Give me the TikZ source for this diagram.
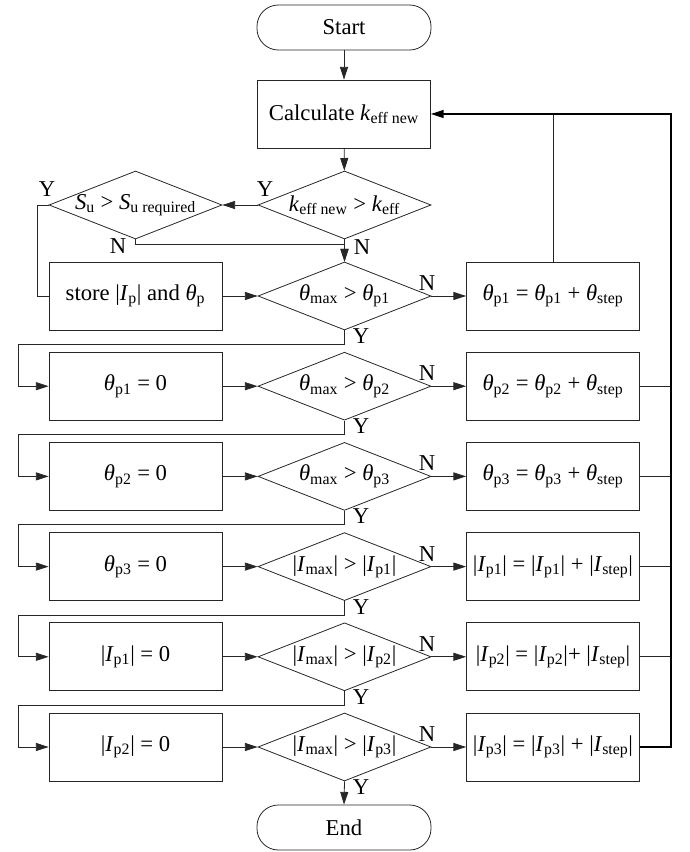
\documentclass[tikz,border=0pt]{standalone}
\usepackage{fontspec}
\setmainfont{Liberation Serif}
\usetikzlibrary{arrows.meta,shapes.geometric}
\newcommand\sbs[1]{\textsubscript{#1}}
\newcommand\vI{\textit{I}}
\newcommand\vth{\textit{θ}}
\newcommand\vk{\textit{k}}
\newcommand\vS{\textit{S}}
\begin{document}
\begin{tikzpicture}[x=0.75pt,y=-0.75pt,font=\fontsize{17}{20}\selectfont,
  ln/.style={line width=0.6pt,draw=black!85},
  arr/.style={ln,-{Triangle[length=9.5pt,width=6pt]}},
  fb/.style={line width=0.9pt,draw=black},
  proc/.style={ln,draw,rectangle,minimum width=173*0.75pt,minimum height=68*0.75pt,inner sep=0pt},
  term/.style={ln,draw,rectangle,rounded corners=16pt,minimum width=174*0.75pt,minimum height=45*0.75pt,inner sep=0pt},
  dec/.style={ln,draw,diamond,minimum width=173*0.75pt,minimum height=68*0.75pt,inner sep=0pt},
  lab/.style={inner sep=0pt}]
\useasboundingbox (0,0) rectangle (689,852);
\coordinate (xl) at (18,0);
\coordinate (xr) at (671,0);
% nodes
\node[term] (start) at (344,27.5) {Start};
\node[proc] (calc) at (344,114) {Calculate \vk\sbs{eff new}};
\node[dec,label=center:{\vk\sbs{eff new} > \vk\sbs{eff}}] (d0) at (344.5,205) {};
\node[dec,label=center:{\vS\sbs{u} > \vS\sbs{u required}}] (su) at (135.5,205) {};
\node[proc] (store) at (135.5,296) {store |\vI\sbs{p}| and \vth\sbs{p}};
% rows
\node[dec,label=center:{\vth\sbs{max} > \vth\sbs{p1}}] (d1) at (344.5,296) {};
\node[dec,label=center:{\vth\sbs{max} > \vth\sbs{p2}}] (d2) at (344.5,386.2) {};
\node[dec,label=center:{\vth\sbs{max} > \vth\sbs{p3}}] (d3) at (344.5,476.4) {};
\node[dec,label=center:{|\vI\sbs{max}| > |\vI\sbs{p1}|}] (d4) at (344.5,566.6) {};
\node[dec,label=center:{|\vI\sbs{max}| > |\vI\sbs{p2}|}] (d5) at (344.5,656.8) {};
\node[dec,label=center:{|\vI\sbs{max}| > |\vI\sbs{p3}|}] (d6) at (344.5,747) {};
\node[proc] (r1) at (553,296) {\vth\sbs{p1} = \vth\sbs{p1} + \vth\sbs{step}};
\node[proc] (r2) at (553,386.2) {\vth\sbs{p2} = \vth\sbs{p2} + \vth\sbs{step}};
\node[proc] (r3) at (553,476.4) {\vth\sbs{p3} = \vth\sbs{p3} + \vth\sbs{step}};
\node[proc] (r4) at (553,566.6) {|\vI\sbs{p1}| = |\vI\sbs{p1}| + |\vI\sbs{step}|};
\node[proc] (r5) at (553,656.8) {|\vI\sbs{p2}| = |\vI\sbs{p2}|+ |\vI\sbs{step}|};
\node[proc] (r6) at (553,747) {|\vI\sbs{p3}| = |\vI\sbs{p3}| + |\vI\sbs{step}|};
\node[proc] (l2) at (135.5,386.2) {\vth\sbs{p1} = 0};
\node[proc] (l3) at (135.5,476.4) {\vth\sbs{p2} = 0};
\node[proc] (l4) at (135.5,566.6) {\vth\sbs{p3} = 0};
\node[proc] (l5) at (135.5,656.8) {|\vI\sbs{p1}| = 0};
\node[proc] (l6) at (135.5,747) {|\vI\sbs{p2}| = 0};
\node[term] (end) at (344,827.5) {End};
% labels
\node[lab] (y0) at (265,189) {Y};
\node[lab] (ysu) at (47,189) {Y};
\node[lab] (nsu) at (118,246) {N};
\node[lab] (n0) at (362,247) {N};
\node[lab] (n1) at (427,283) {N};
\node[lab] (n2) at (427,373.2) {N};
\node[lab] (n3) at (427,463.4) {N};
\node[lab] (n4) at (427,553.6) {N};
\node[lab] (n5) at (427,643.8) {N};
\node[lab] (n6) at (427,734) {N};
\node[lab] (y1) at (361,336) {Y};
\node[lab] (y2) at (361,426.2) {Y};
\node[lab] (y3) at (361,516.4) {Y};
\node[lab] (y4) at (361,606.6) {Y};
\node[lab] (y5) at (361,696.8) {Y};
\node[lab] (y6) at (361,787) {Y};
% connectors
\draw[arr] (start) -- (calc);
\draw[arr] (calc) -- (d0);
\draw[arr] (d0.west) -- (su.east);
\draw[ln] (su.west) -- ++(-11,0) |- (store.west);
\draw[arr] (su.south) -- ++(0,5) -| (d1.north);
\draw[arr] (d0.south) -- (d1.north);
\draw[arr] (store.east) -- (d1.west);
\foreach \i in {1,...,6} {\draw[arr] (d\i.east) -- (r\i.west);}
\foreach \i/\j in {1/2,2/3,3/4,4/5,5/6} {
  \draw[arr] (d\i.south) -- ++(0,14) coordinate (t\i) -- (t\i -| xl) |- (l\j.west);
  \draw[arr] (l\j.east) -- (d\j.west);
}
\draw[arr] (d6.south) -- (end.north);
\foreach \i in {2,...,5} {\draw[ln] (r\i.east) -- (r\i.east -| xr);}
\draw[ln] (r1.north) -- (r1.north |- calc.east);
\draw[fb,-{Triangle[length=9.5pt,width=6pt]}] (r6.east) -- (r6.east -| xr) -- (xr |- calc.east) -- (calc.east);
\end{tikzpicture}
\end{document}
